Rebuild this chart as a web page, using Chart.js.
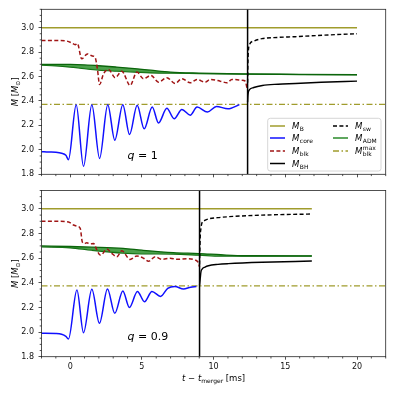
<!DOCTYPE html>
<html><head><meta charset="utf-8">
<script src="https://cdn.jsdelivr.net/npm/chart.js@4/dist/chart.umd.min.js"></script>
<style>
html,body{margin:0;padding:0;background:#fff;}
#wrap{position:relative;width:395px;height:395px;background:#fff;}
canvas{position:absolute;left:0;top:0;}
</style></head><body>
<div id="wrap"><canvas id="c1" width="395" height="395"></canvas><canvas id="c2" width="395" height="395"></canvas></div>
<script>
// ---------- tick labels / ranges ----------
const xTicks = [0, 5, 10, 15, 20];
const yTicks = [1.8, 2.0, 2.2, 2.4, 2.6, 2.8, 3.0];
const xRange = [-2, 22];
const yRange = [1.8, 3.15];

// ---------- panel q = 1 ----------
const q1Label = '1';
const q1Merger = 12.37;
const q1BT = [-2, 20];
const q1B = [3.0, 3.0];
const q1BlkMaxT = [-2, 22];
const q1BlkMax = [2.372, 2.372];
const q1CoreT = [-2, -1.5, -1, -0.6, -0.3, -0.12, 0.42, 0.93, 1.51, 2.05, 2.62, 3.11, 3.67, 4.14, 4.67, 5.16, 5.72, 6.16, 6.74, 7.25, 7.79, 8.37, 8.85, 9.57, 10.2, 11.0, 11.8];
const q1Core = [1.985, 1.982, 1.98, 1.972, 1.955, 1.92, 2.37, 1.865, 2.37, 1.93, 2.37, 2.079, 2.37, 2.125, 2.365, 2.172, 2.35, 2.22, 2.34, 2.254, 2.33, 2.284, 2.35, 2.31, 2.355, 2.336, 2.37];
const q1BlkT = [-2, -0.8, -0.23, 0.1, 0.35, 0.5, 0.8, 1.2, 1.5, 1.74, 1.9, 2.05, 2.32, 2.67, 3.14, 3.6, 4.18, 4.65, 5.11, 5.63, 6.16, 6.74, 7.32, 7.79, 8.37, 8.84, 9.41, 9.76, 10.46, 10.93, 11.28, 11.97, 12.2, 12.36];
const q1Blk = [2.895, 2.895, 2.89, 2.875, 2.86, 2.87, 2.745, 2.785, 2.77, 2.755, 2.66, 2.535, 2.62, 2.658, 2.59, 2.644, 2.527, 2.636, 2.582, 2.609, 2.554, 2.59, 2.543, 2.582, 2.549, 2.576, 2.554, 2.576, 2.562, 2.549, 2.576, 2.57, 2.562, 2.49];
const q1AdmT = [-2, -1, 0, 1, 2, 3.25, 4.5, 5.6, 7, 9, 12, 16, 20];
const q1AdmUp = [2.700, 2.700, 2.699, 2.695, 2.688, 2.677, 2.665, 2.652, 2.636, 2.628, 2.621, 2.618, 2.615];
const q1AdmLo = [2.693, 2.688, 2.678, 2.664, 2.652, 2.644, 2.637, 2.631, 2.627, 2.624, 2.619, 2.616, 2.613];
const q1BhT = [12.37, 12.39, 12.42, 12.5, 12.8, 13.4, 14.5, 15.7, 17.5, 20];
const q1Bh = [2.39, 2.44, 2.47, 2.492, 2.51, 2.527, 2.537, 2.543, 2.553, 2.562];
const q1SwT = [12.37, 12.39, 12.42, 12.5, 12.8, 13.37, 14.5, 15.7, 18, 20];
const q1Sw = [2.55, 2.70, 2.80, 2.86, 2.89, 2.91, 2.92, 2.926, 2.94, 2.95];

// ---------- panel q = 0.9 ----------
const q09Label = '0.9';
const q09Merger = 9.02;
const q09BT = [-2, 16.85];
const q09B = [3.002, 3.002];
const q09BlkMaxT = [-2, 22];
const q09BlkMax = [2.376, 2.376];
const q09CoreT = [-2, -1, -0.6, -0.3, -0.12, 0.47, 0.93, 1.51, 2.04, 2.6, 3.11, 3.67, 4.13, 4.69, 5.18, 5.7, 6.3, 6.8, 7.3, 7.9, 8.4, 8.8];
const q09Core = [1.99, 1.988, 1.982, 1.965, 1.944, 2.342, 1.995, 2.347, 2.071, 2.35, 2.152, 2.334, 2.2, 2.33, 2.247, 2.33, 2.29, 2.355, 2.37, 2.35, 2.365, 2.37];
const q09BlkT = [-2, -0.8, -0.12, 0.23, 0.47, 0.7, 0.85, 1.0, 1.16, 1.39, 1.63, 1.86, 2.09, 2.21, 2.56, 2.9, 3.25, 3.6, 4.18, 4.65, 5.11, 5.46, 5.93, 6.39, 6.97, 7.44, 8.14, 8.72, 8.95, 9.02];
const q09Blk = [2.9, 2.9, 2.895, 2.87, 2.86, 2.843, 2.73, 2.72, 2.726, 2.716, 2.72, 2.667, 2.626, 2.63, 2.675, 2.64, 2.612, 2.66, 2.59, 2.618, 2.6, 2.575, 2.612, 2.591, 2.6, 2.591, 2.596, 2.585, 2.56, 2.53];
const q09AdmT = [-2, 0, 1.5, 3.7, 5, 7.2, 9, 10.5, 12.2, 16.85];
const q09AdmUp = [2.700, 2.695, 2.69, 2.68, 2.665, 2.645, 2.638, 2.628, 2.62, 2.619];
const q09AdmLo = [2.692, 2.685, 2.665, 2.642, 2.636, 2.634, 2.625, 2.617, 2.618, 2.617];
const q09BhT = [9.02, 9.07, 9.12, 9.2, 9.4, 9.64, 10.3, 11.03, 13.37, 16.85];
const q09Bh = [2.38, 2.437, 2.49, 2.512, 2.528, 2.539, 2.55, 2.556, 2.567, 2.577];
const q09SwT = [9.02, 9.07, 9.12, 9.18, 9.35, 9.64, 10.3, 11.03, 13.37, 16.85];
const q09Sw = [2.55, 2.78, 2.843, 2.884, 2.905, 2.919, 2.93, 2.937, 2.95, 2.959];

// ---------- styles ----------
const COL = {olive:'#a09c2c', blue:'#1010ff', red:'#a01515', green:'#0b650b', legGreen:'#2a8a2a', fill:'rgba(45,145,45,0.85)', black:'#000'};
const FAM = "'DejaVu Sans', sans-serif";

function pts(t, v){ return t.map((x,i)=>({x:x, y:v[i]})); }

function datasets(d){
  const base = {pointRadius:0, cubicInterpolationMode:'monotone', fill:false};
  return [
    Object.assign({}, base, {label:'ADM up', data:pts(d.admT,d.admUp), borderColor:COL.green, borderWidth:1.3, fill:'+1', backgroundColor:COL.fill, order:10}),
    Object.assign({}, base, {label:'ADM lo', data:pts(d.admT,d.admLo), borderColor:COL.green, borderWidth:1.3, order:10}),
    Object.assign({}, base, {label:'B', data:pts(d.bT,d.b), borderColor:COL.olive, borderWidth:1.5, order:8}),
    Object.assign({}, base, {label:'blkmax', data:pts(d.bmT,d.bm), borderColor:COL.olive, borderWidth:1.3, borderDash:[6,2.5,1.5,2.5], order:8}),
    Object.assign({}, base, {label:'blk', data:pts(d.blkT,d.blk), borderColor:COL.red, borderWidth:1.5, borderDash:[4,2.4], order:5}),
    Object.assign({}, base, {label:'core', data:pts(d.coreT,d.core), borderColor:COL.blue, borderWidth:1.5, order:4}),
    Object.assign({}, base, {label:'sw', data:pts(d.swT,d.sw), borderColor:COL.black, borderWidth:1.4, borderDash:[4,2.4], order:3}),
    Object.assign({}, base, {label:'BH', data:pts(d.bhT,d.bh), borderColor:COL.black, borderWidth:1.4, order:3}),
    {label:'merger', data:[{x:d.merger,y:yRange[0]},{x:d.merger,y:yRange[1]}], borderColor:COL.black, borderWidth:1.5, pointRadius:0, tension:0, fill:false, order:1}
  ];
}

function rich(ctx, x, y, parts, align){
  let w = 0;
  parts.forEach(p=>{ ctx.font = (p.i?'italic ':'') + p.s + 'px ' + FAM; p.w = ctx.measureText(p.t).width; w += p.w; });
  let cx = align==='center' ? x - w/2 : x;
  ctx.textAlign = 'left'; ctx.textBaseline = 'alphabetic';
  parts.forEach(p=>{ ctx.font = (p.i?'italic ':'') + p.s + 'px ' + FAM; ctx.fillText(p.t, cx, y + (p.dy||0)); cx += p.w; });
  return cx;
}

function legendLabel(ctx, x, y, sub, sup){
  ctx.fillStyle = '#000';
  let cx = rich(ctx, x, y, [{t:'M', s:8.5, i:true}], 'left');
  ctx.font = '6px ' + FAM;
  ctx.fillText(sub, cx + 0.5, y + 2);
  if (sup){ ctx.fillText(sup, cx + 0.5, y - 4.5); }
}

const decor = {
  id:'decor',
  afterDraw(chart, args, o){
    const ctx = chart.ctx, a = chart.chartArea, xs = chart.scales.x, ys = chart.scales.y;
    ctx.save();
    ctx.strokeStyle = '#262626'; ctx.lineWidth = 0.8;
    ctx.beginPath();
    for (let v = xRange[0]; v <= xRange[1]; v++){
      if (v % 5 === 0) continue;
      const px = xs.getPixelForValue(v); ctx.moveTo(px, a.bottom); ctx.lineTo(px, a.bottom + 1.8);
    }
    for (let k = 36; k <= 63; k++){
      if (k % 4 === 0) continue;
      const py = ys.getPixelForValue(k * 0.05); ctx.moveTo(a.left, py); ctx.lineTo(a.left - 1.8, py);
    }
    ctx.stroke();
    ctx.strokeRect(a.left, a.top, a.right - a.left, a.bottom - a.top);
    // y title
    ctx.fillStyle = '#000';
    ctx.save();
    ctx.translate(18, (a.top + a.bottom) / 2);
    ctx.rotate(-Math.PI / 2);
    rich(ctx, 0, 0, [{t:'M', s:8.5, i:true},{t:' [', s:8.5},{t:'M', s:8.5, i:true},{t:'\u2299', s:6, dy:2},{t:']', s:8.5}], 'center');
    ctx.restore();
    // panel label
    ctx.fillStyle = '#000';
    rich(ctx, 127.5, o.qY, [{t:'q', s:11, i:true},{t:' = ' + o.q, s:11}], 'left');
    if (o.xTitle){
      rich(ctx, (a.left + a.right) / 2, 381, [{t:'t', s:8.5, i:true},{t:' \u2212 ', s:8.5},{t:'t', s:8.5, i:true},{t:'merger', s:6, dy:2},{t:' [ms]', s:8.5}], 'center');
    }
    if (o.legend){
      const bx = 267.7, by = 118.3, bw = 113.3, bh = 52.7, r = 2.5;
      ctx.beginPath();
      ctx.moveTo(bx + r, by); ctx.lineTo(bx + bw - r, by); ctx.quadraticCurveTo(bx + bw, by, bx + bw, by + r);
      ctx.lineTo(bx + bw, by + bh - r); ctx.quadraticCurveTo(bx + bw, by + bh, bx + bw - r, by + bh);
      ctx.lineTo(bx + r, by + bh); ctx.quadraticCurveTo(bx, by + bh, bx, by + bh - r);
      ctx.lineTo(bx, by + r); ctx.quadraticCurveTo(bx, by, bx + r, by); ctx.closePath();
      ctx.fillStyle = 'rgba(255,255,255,0.85)'; ctx.fill();
      ctx.strokeStyle = '#cccccc'; ctx.lineWidth = 0.8; ctx.stroke();
      const items = [
        {x:270, y:126, c:COL.olive, d:[], sub:'B'},
        {x:270, y:138, c:COL.blue, d:[], sub:'core'},
        {x:270, y:151, c:COL.red, d:[4,2.4], sub:'blk'},
        {x:270, y:163.5, c:COL.black, d:[], sub:'BH'},
        {x:333, y:126, c:COL.black, d:[4,2.4], sub:'sw'},
        {x:333, y:138, c:COL.legGreen, d:[], sub:'ADM'},
        {x:333, y:151, c:COL.olive, d:[6,2.5,1.5,2.5], sub:'blk', sup:'max'}
      ];
      items.forEach(it=>{
        ctx.beginPath(); ctx.setLineDash(it.d); ctx.strokeStyle = it.c; ctx.lineWidth = 1.5;
        ctx.moveTo(it.x, it.y); ctx.lineTo(it.x + 15, it.y); ctx.stroke();
        ctx.setLineDash([]);
        legendLabel(ctx, it.x + 22, it.y + 3, it.sub, it.sup);
      });
    }
    ctx.restore();
  }
};

function makeChart(id, d, opt){
  return new Chart(document.getElementById(id), {
    type:'line',
    data:{datasets:datasets(d)},
    plugins:[decor],
    options:{
      responsive:false, animation:false, devicePixelRatio:1,
      layout:{padding:{left:0, right:9.3, top:opt.top, bottom:0}},
      plugins:{legend:{display:false}, tooltip:{enabled:false}, decor:{q:d.q, qY:opt.qY, legend:opt.legend, xTitle:opt.xTitle}},
      scales:{
        x:{type:'linear', min:xRange[0], max:xRange[1],
           afterBuildTicks:s=>{ s.ticks = xTicks.map(v=>({value:v})); },
           afterFit:s=>{ s.height = 395 - opt.bottom; },
           grid:{drawOnChartArea:false, drawTicks:true, tickLength:3, tickColor:'#262626', tickWidth:0.8},
           border:{display:false},
           ticks:{display:opt.xLabels, padding:2, color:'#111', font:{family:FAM, size:8}, maxRotation:0, callback:v=>String(v)}},
        y:{type:'linear', min:yRange[0], max:yRange[1],
           afterBuildTicks:s=>{ s.ticks = yTicks.map(v=>({value:v})); },
           afterFit:s=>{ s.width = 41.5; },
           grid:{drawOnChartArea:false, drawTicks:true, tickLength:3, tickColor:'#262626', tickWidth:0.8},
           border:{display:false},
           ticks:{padding:4.5, color:'#111', font:{family:FAM, size:8}, callback:v=>Number(v).toFixed(1)}}
      }
    }
  });
}

const panel1 = {q:q1Label, merger:q1Merger, bT:q1BT, b:q1B, bmT:q1BlkMaxT, bm:q1BlkMax, coreT:q1CoreT, core:q1Core, blkT:q1BlkT, blk:q1Blk, admT:q1AdmT, admUp:q1AdmUp, admLo:q1AdmLo, bhT:q1BhT, bh:q1Bh, swT:q1SwT, sw:q1Sw};
const panel2 = {q:q09Label, merger:q09Merger, bT:q09BT, b:q09B, bmT:q09BlkMaxT, bm:q09BlkMax, coreT:q09CoreT, core:q09Core, blkT:q09BlkT, blk:q09Blk, admT:q09AdmT, admUp:q09AdmUp, admLo:q09AdmLo, bhT:q09BhT, bh:q09Bh, swT:q09SwT, sw:q09Sw};

makeChart('c1', panel1, {top:9, bottom:174.3, qY:159, legend:true, xTitle:false, xLabels:false});
makeChart('c2', panel2, {top:190.5, bottom:356.7, qY:340, legend:false, xTitle:true, xLabels:true});
</script>
</body></html>
